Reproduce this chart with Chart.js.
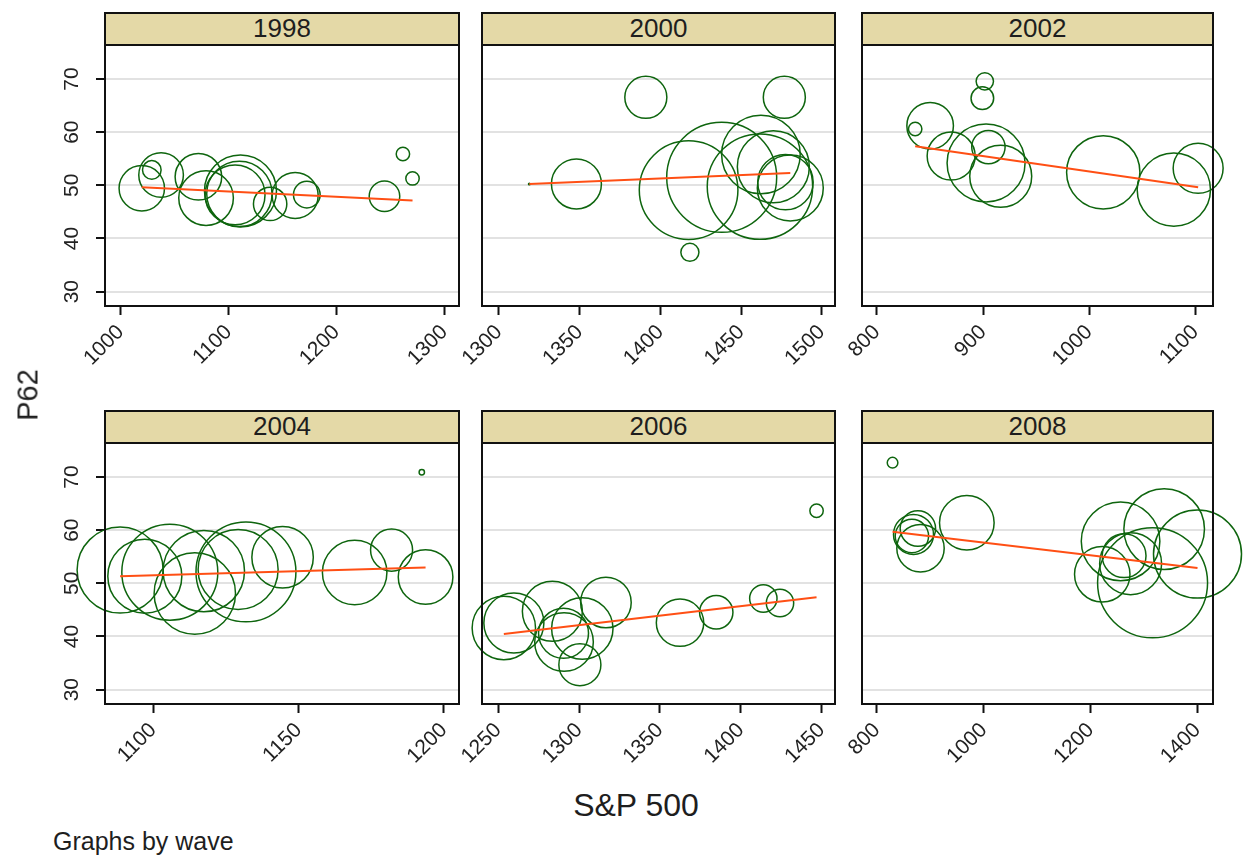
<!DOCTYPE html>
<html>
<head>
<meta charset="utf-8">
<script src="https://cdn.jsdelivr.net/npm/chart.js@4.4.1/dist/chart.umd.min.js"></script>
<style>
  html, body { margin: 0; padding: 0; background: #fff; }
  body { width: 1243px; height: 856px; position: relative; overflow: hidden;
         font-family: "Liberation Sans", Arial, sans-serif; color: #1e1e1e; }
  canvas { position: absolute; }
  .strip { position: absolute; box-sizing: border-box; border: 2px solid #111;
           background: #e4d9a7; text-align: center; font-size: 26px; line-height: 29px; }
  .label { position: absolute; white-space: nowrap; }
</style>
</head>
<body>
<script>
// ---- values: S&P 500 level (x), P62 (y), analytic weight (bubble size) ----
const waves = ['1998', '2000', '2002', '2004', '2006', '2008'];
const yTicks = [30, 40, 50, 60, 70];

const sp1998  = [1019.5, 1028.8, 1037.4, 1072.0, 1079.1, 1111.0, 1110.0, 1106.0, 1138.5, 1161.7, 1172.5, 1244.5, 1261.6, 1270.5];
const p62_1998 = [49.45, 52.9, 51.95, 51.6, 47.6, 48.95, 48.4, 48.2, 46.5, 48.1, 48.25, 47.95, 55.9, 51.3];
const wt1998  = [32.2, 5.4, 31.1, 33.9, 46.6, 81, 66.8, 56, 17.4, 33.1, 11.1, 14.6, 2.8, 2.8];
const fitX1998 = [1019.5, 1270.5];
const fitY1998 = [49.64, 47.13];
const xTicks1998 = [1000, 1100, 1200, 1300];

const sp2000  = [1318.8, 1348.0, 1391.0, 1418.3, 1417.5, 1438.0, 1461.7, 1462.3, 1470.0, 1480.5, 1477.5, 1476.8];
const p62_2000 = [50.26, 50.26, 66.56, 37.4, 49.1, 51.5, 49.76, 55.8, 53.5, 49.5, 50.6, 66.56];
const wt2000  = [0.04, 39, 27.6, 5.1, 152, 189, 173.6, 96.5, 81, 68, 48, 27.6];
const fitX2000 = [1318.8, 1480.5];
const fitY2000 = [50.26, 52.33];
const xTicks2000 = [1300, 1350, 1400, 1450, 1500];

const sp2002  = [836.0, 850.1, 869.9, 902.8, 905.0, 916.6, 901.6, 899.3, 1013.2, 1079.7, 1102.6];
const p62_2002 = [60.6, 61.2, 55.5, 54.2, 57.2, 51.7, 69.56, 66.4, 52.45, 49.2, 53.2];
const wt2002  = [2.8, 33.9, 36, 95, 17.4, 60, 4.7, 8, 84, 84, 39];
const fitX2002 = [836.0, 1102.6];
const fitY2002 = [57.35, 49.64];
const xTicks2002 = [800, 900, 1000, 1100];

const sp2004  = [1088.6, 1097.1, 1105.7, 1114.3, 1117.4, 1131.9, 1129.2, 1144.5, 1169.3, 1182.0, 1193.7, 1192.4];
const p62_2004 = [52.5, 51.35, 52.1, 48.1, 52.3, 52.15, 52.6, 54.9, 52.04, 56.25, 51.2, 70.9];
const wt2004  = [115.6, 85.6, 144, 103.5, 103.5, 156, 100, 59, 65, 27.6, 46.6, 0.45];
const fitX2004 = [1088.6, 1193.7];
const fitY2004 = [51.35, 52.99];
const xTicks2004 = [1100, 1150, 1200];

const sp2006  = [1253.5, 1259.7, 1283.5, 1290.7, 1290.4, 1302.0, 1300.5, 1316.6, 1362.4, 1384.8, 1413.9, 1424.2, 1446.8];
const p62_2006 = [41.6, 42.55, 44.75, 38.96, 40.6, 41.5, 34.7, 46.4, 42.6, 44.55, 47.15, 46.3, 63.65];
const wt2006  = [62.8, 56.3, 56.3, 53.7, 39, 58.9, 27.6, 40, 35.1, 17.4, 11.7, 11.7, 2.8];
const fitX2006 = [1253.5, 1446.8];
const fitY2006 = [40.48, 47.4];
const xTicks2006 = [1250, 1300, 1350, 1400, 1450];

const sp2008  = [829.2, 865.4, 868.4, 876.6, 881.5, 968.2, 1221.7, 1256.0, 1262.6, 1274.8, 1315.9, 1337.6, 1400.0];
const p62_2008 = [72.7, 58.9, 59.2, 60.3, 56.6, 61.4, 51.7, 57.9, 55.2, 53.7, 50.1, 60.2, 55.5];
const wt2008  = [1.76, 17.4, 25, 19.6, 35.1, 46.6, 48, 96.5, 30, 60, 189, 101.5, 121];
const fitX2008 = [829.2, 1400.0];
const fitY2008 = [59.7, 52.9];
const xTicks2008 = [800, 1000, 1200, 1400];

// ---- page layout ----
const FONT = '"Liberation Sans", Arial, sans-serif';
const INK = '#222';
const PADL = 70, PADT = 12, PADR = 34, PADB = 80;
const Y_MIN = 27.3, Y_MAX = 76.4;

const panels = [
  { wave: waves[0], xs: sp1998, ys: p62_1998, ws: wt1998, fx: fitX1998, fy: fitY1998, xt: xTicks1998, xmin: 985.4,  xmax: 1313.6, left: 105, top: 45,  w: 354, h: 261, col: 0 },
  { wave: waves[1], xs: sp2000, ys: p62_2000, ws: wt2000, fx: fitX2000, fy: fitY2000, xt: xTicks2000, xmin: 1289.5, xmax: 1508.2, left: 482, top: 45,  w: 353, h: 261, col: 1 },
  { wave: waves[2], xs: sp2002, ys: p62_2002, ws: wt2002, fx: fitX2002, fy: fitY2002, xt: xTicks2002, xmin: 785.9,  xmax: 1116.6, left: 862, top: 45,  w: 351, h: 261, col: 2 },
  { wave: waves[3], xs: sp2004, ys: p62_2004, ws: wt2004, fx: fitX2004, fy: fitY2004, xt: xTicks2004, xmin: 1083.4, xmax: 1205.2, left: 105, top: 443, w: 354, h: 261, col: 0 },
  { wave: waves[4], xs: sp2006, ys: p62_2006, ws: wt2006, fx: fitX2006, fy: fitY2006, xt: xTicks2006, xmin: 1240.0, xmax: 1458.2, left: 482, top: 443, w: 353, h: 261, col: 1 },
  { wave: waves[5], xs: sp2008, ys: p62_2008, ws: wt2008, fx: fitX2008, fy: fitY2008, xt: xTicks2008, xmin: 772.0,  xmax: 1429.0, left: 862, top: 443, w: 351, h: 261, col: 2 },
];

// bubble area proportional to the weight
const bubbleRadius = w => 4 * Math.sqrt(w);

// plot frame + vertical tick labels on the first column
const framePlugin = {
  id: 'frame',
  afterDraw(chart, args, opts) {
    const { ctx, chartArea: a } = chart;
    ctx.save();
    ctx.strokeStyle = '#111';
    ctx.lineWidth = 2;
    ctx.strokeRect(a.left, a.top, a.right - a.left, a.bottom - a.top);
    if (opts.yLabels) {
      const ys = chart.scales.y;
      ctx.fillStyle = INK;
      ctx.font = '21px ' + FONT;
      ctx.textAlign = 'center';
      ctx.textBaseline = 'middle';
      for (const t of ys.ticks) {
        ctx.save();
        ctx.translate(a.left - 33, ys.getPixelForValue(t.value));
        ctx.rotate(-Math.PI / 2);
        ctx.fillText(String(t.value), 0, 0);
        ctx.restore();
      }
    }
    ctx.restore();
  }
};

function addText(txt, cls, style) {
  const d = document.createElement('div');
  d.className = cls;
  d.textContent = txt;
  Object.assign(d.style, style);
  document.body.appendChild(d);
  return d;
}

function buildPanel(p) {
  // header strip with the wave year
  addText(p.wave, 'strip', {
    left: (p.left - 1) + 'px', top: (p.top - 33) + 'px',
    width: (p.w + 2) + 'px', height: '34px'
  });

  const cv = document.createElement('canvas');
  cv.width = p.w + PADL + PADR;
  cv.height = p.h + PADT + PADB;
  cv.style.left = (p.left - PADL) + 'px';
  cv.style.top = (p.top - PADT) + 'px';
  document.body.appendChild(cv);

  const points = p.xs.map((x, i) => ({ x: x, y: p.ys[i], w: p.ws[i] }));
  const fit = p.fx.map((x, i) => ({ x: x, y: p.fy[i] }));

  new Chart(cv, {
    type: 'bubble',
    data: {
      datasets: [
        {
          type: 'bubble', data: points, order: 2, clip: false,
          radius: c => bubbleRadius(c.raw.w),
          borderColor: '#0e650e', backgroundColor: 'rgba(0,0,0,0)', borderWidth: 1.5
        },
        {
          type: 'line', data: fit, order: 1, clip: false,
          borderColor: '#ff4f14', borderWidth: 2, pointRadius: 0, fill: false
        }
      ]
    },
    options: {
      responsive: false, animation: false, events: [],
      layout: { autoPadding: false, padding: { left: 0, top: PADT, right: PADR, bottom: 0 } },
      plugins: { legend: { display: false }, tooltip: { enabled: false }, frame: { yLabels: p.col === 0 } },
      scales: {
        x: {
          type: 'linear', position: 'bottom', min: p.xmin, max: p.xmax,
          afterBuildTicks: s => { s.ticks = p.xt.map(v => ({ value: v })); },
          afterFit: s => { s.height = PADB; },
          border: { display: false },
          grid: { drawOnChartArea: false, drawTicks: true, tickLength: 9, tickColor: '#111', tickWidth: 2 },
          ticks: { autoSkip: false, minRotation: 45, maxRotation: 45, padding: 5,
                   callback: v => String(v),
                   color: INK, font: { family: FONT, size: 21 } }
        },
        y: {
          type: 'linear', position: 'left', min: Y_MIN, max: Y_MAX,
          afterBuildTicks: s => { s.ticks = yTicks.map(v => ({ value: v })); },
          afterFit: s => { s.width = PADL; },
          border: { display: false },
          grid: { color: '#e2e2e2', lineWidth: 2, drawTicks: p.col === 0, tickLength: 9, tickColor: '#111', tickWidth: 2 },
          ticks: { display: false }
        }
      }
    },
    plugins: [framePlugin]
  });
}

panels.forEach(buildPanel);

// shared axis titles and note
addText('P62', 'label', { left: '28px', top: '395px', fontSize: '29px', transform: 'translate(-50%,-50%) rotate(-90deg)' });
addText('S&P 500', 'label', { left: '636px', top: '805px', fontSize: '32px', transform: 'translate(-50%,-50%)' });
addText('Graphs by wave', 'label', { left: '53px', top: '841px', fontSize: '25px', transform: 'translate(0,-50%)' });
</script>
</body>
</html>
